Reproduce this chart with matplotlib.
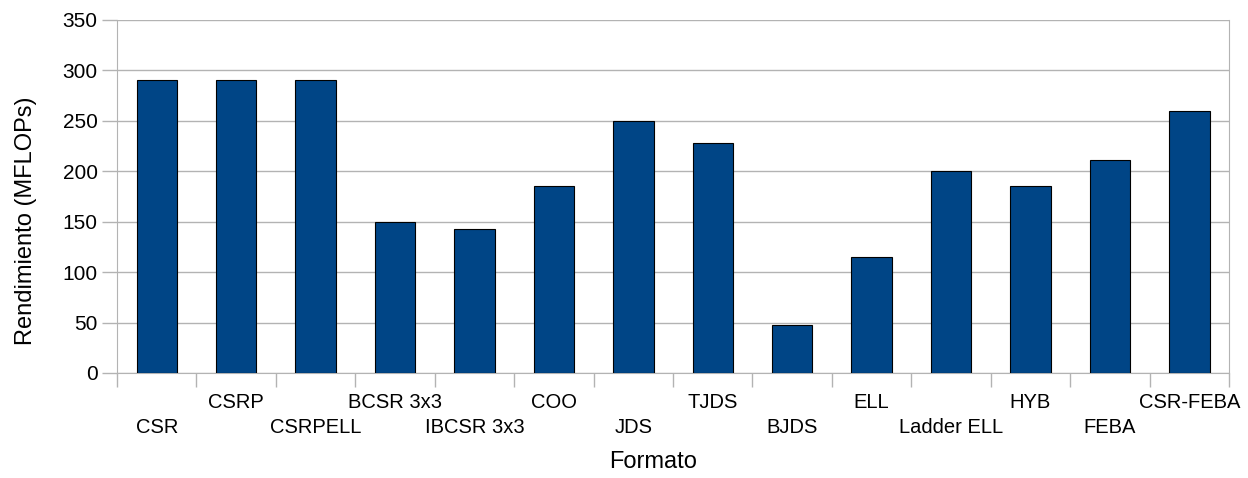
import numpy as np
import matplotlib.pyplot as plt

# rendimiento por formato de almacenamiento
formatos = ['CSR', 'CSRP', 'CSRPELL', 'BCSR 3x3', 'IBCSR 3x3', 'COO', 'JDS',
            'TJDS', 'BJDS', 'ELL', 'Ladder ELL', 'HYB', 'FEBA', 'CSR-FEBA']
mflops = [290, 290, 290, 150, 143, 185, 250, 228, 48, 115, 200, 185, 211, 260]

plt.rcParams['font.family'] = ['Liberation Sans', 'DejaVu Sans']
gris = '#b3b3b3'

fig = plt.figure(figsize=(12.48, 4.78), dpi=100)
ax = fig.add_axes([0.0938, 0.2197, 0.891, 0.7385])

x = np.arange(len(formatos))
ax.bar(x, mflops, width=0.51, color='#004586', edgecolor='black', linewidth=0.8, zorder=3)

ax.set_xlim(-0.5, len(formatos) - 0.5)
ax.set_ylim(0, 350)
ax.set_yticks(np.arange(0, 351, 50))
ax.grid(axis='y', color=gris, linewidth=1.0, zorder=0)

# marcas en los limites de cada categoria
ax.set_xticks(np.arange(-0.5, len(formatos), 1))
ax.set_xticklabels([])
ax.tick_params(axis='x', length=10, color=gris, width=1.0)
ax.tick_params(axis='y', length=11, color=gris, width=1.0, labelsize=15, pad=3)

for s in ['left', 'right', 'bottom']:
    ax.spines[s].set_color(gris)
ax.spines['top'].set_visible(False)

# etiquetas escalonadas en dos filas
for i, nombre in enumerate(formatos):
    y = -0.085 if i % 2 == 1 else -0.155
    ax.text(i, y, nombre, transform=ax.get_xaxis_transform(),
            ha='center', va='center', fontsize=14.5)

ax.set_ylabel('Rendimiento (MFLOPs)', fontsize=17)
ax.yaxis.set_label_coords(-0.072, 0.43)
ax.set_xlabel('Formato', fontsize=17)
ax.xaxis.set_label_coords(0.482, -0.222)

plt.savefig('out.png', dpi=100)
